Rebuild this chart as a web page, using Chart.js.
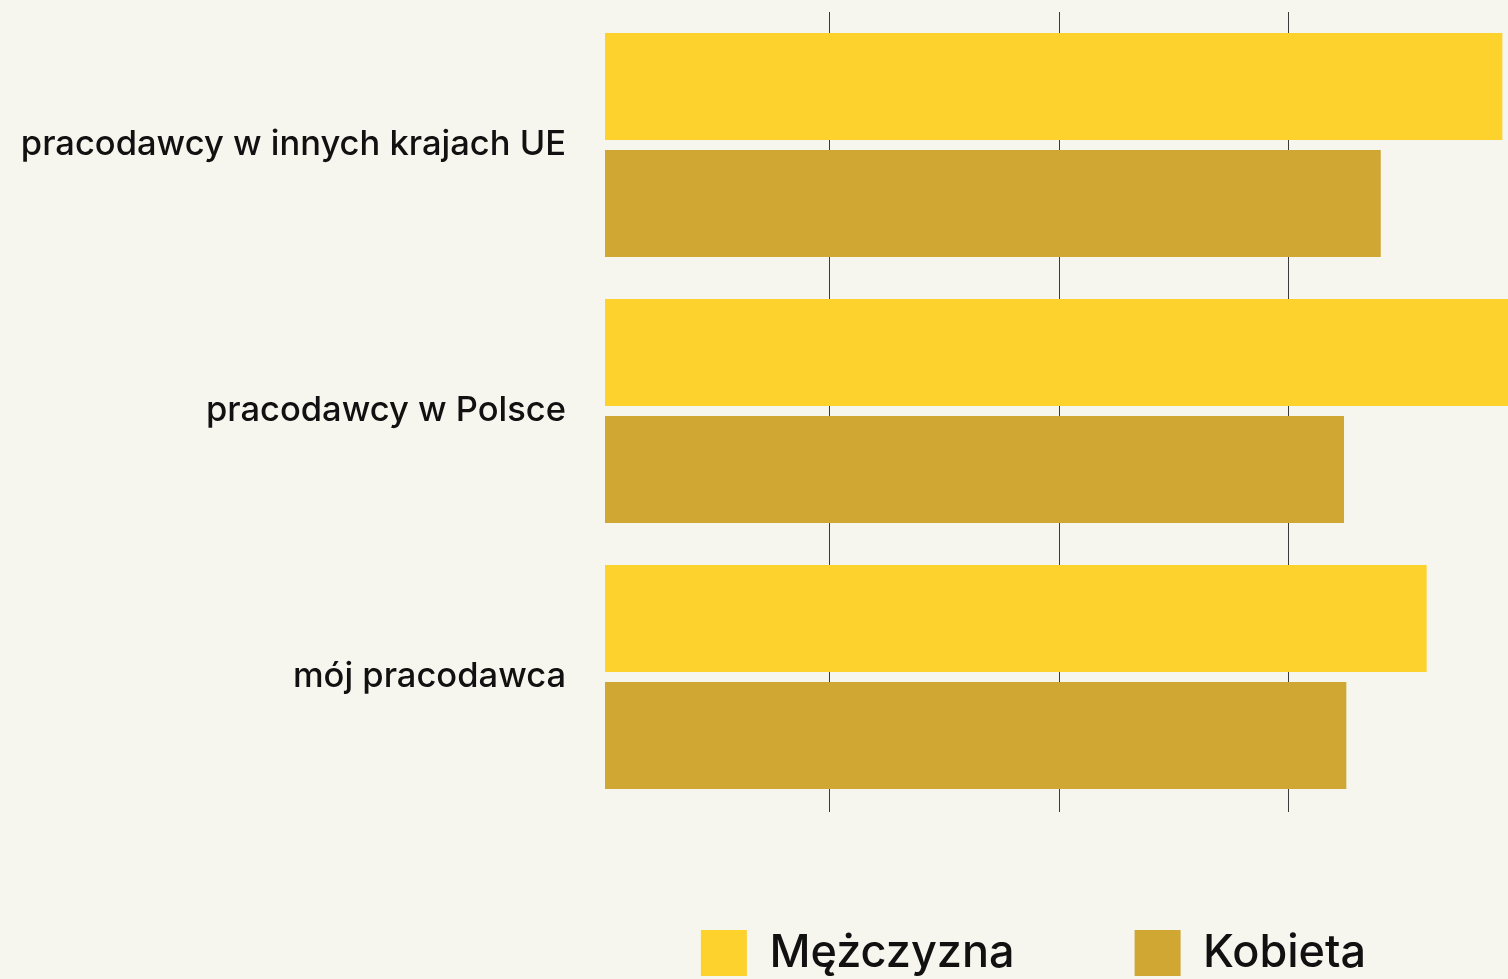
<!DOCTYPE html>
<html lang="pl">
<head>
<meta charset="utf-8">
<title>Pracodawcy</title>
<script src="https://cdn.jsdelivr.net/npm/chart.js@4.4.1/dist/chart.umd.min.js"></script>
<style>
  html, body { margin: 0; padding: 0; background: #f7f6ee; overflow: hidden; }
  #wrap { position: relative; width: 1508px; height: 979px; overflow: hidden; }
  canvas { position: absolute; left: 0; top: 0; }
</style>
</head>
<body>
<div id="wrap"><canvas id="myChart" width="2067" height="986"></canvas></div>
<script>
// Dane
const categories = ['pracodawcy w innych krajach UE', 'pracodawcy w Polsce', 'mój pracodawca'];
const seriesNames = ['Mężczyzna', 'Kobieta'];
const menValues = [39.3, 41, 36.0];
const womenValues = [34.0, 32.4, 32.5];
const xTicks = [10, 20, 30, 40, 50, 60];

const colors = ['#fed22d', '#cfa732'];

var ctx = document.getElementById('myChart').getContext('2d');
var myChart = new Chart(ctx, {
    type: 'bar',
    data: {
        labels: categories,
        datasets: [{
            label: seriesNames[0],
            data: menValues,
            backgroundColor: colors[0],
            borderWidth: 0,
            clip: 0
        }, {
            label: seriesNames[1],
            data: womenValues,
            backgroundColor: colors[1],
            borderWidth: 0,
            clip: 0
        }]
    },
    options: {
        indexAxis: 'y',
        responsive: false,
        animation: false,
        devicePixelRatio: 1,
        barPercentage: 0.915,
        categoryPercentage: 0.88,
        layout: {
            padding: { top: 12, left: 0, right: 0, bottom: 0 }
        },
        plugins: {
            legend: {
                position: 'bottom',
                labels: {
                    boxWidth: 46,
                    boxHeight: 46,
                    padding: 120,
                    color: '#111',
                    font: { family: 'Inter', size: 45, weight: '500' }
                }
            },
            tooltip: { enabled: false }
        },
        scales: {
            x: {
                min: 0.2,
                max: 63.9,
                afterBuildTicks: (scale) => {
                    scale.ticks = xTicks.map(v => ({ value: v }));
                },
                afterFit: (scale) => {
                    scale.height = 0;
                },
                border: { display: false },
                grid: {
                    color: '#3a3a3a',
                    lineWidth: 1,
                    drawTicks: true,
                    tickLength: 2
                },
                ticks: {
                    padding: 5,
                    color: '#777',
                    font: { family: 'Inter', size: 4 }
                }
            },
            y: {
                afterFit: (scale) => {
                    // stała szerokość osi, bez dodatkowego marginesu u góry
                    scale.width = 605;
                    scale.paddingTop = 0;
                    scale.paddingBottom = 0;
                },
                border: { display: false },
                grid: { display: false, drawTicks: false },
                ticks: {
                    padding: 39,
                    color: '#111',
                    font: { family: 'Inter', size: 34.5, weight: '500' }
                }
            }
        }
    }
});
</script>
</body>
</html>
